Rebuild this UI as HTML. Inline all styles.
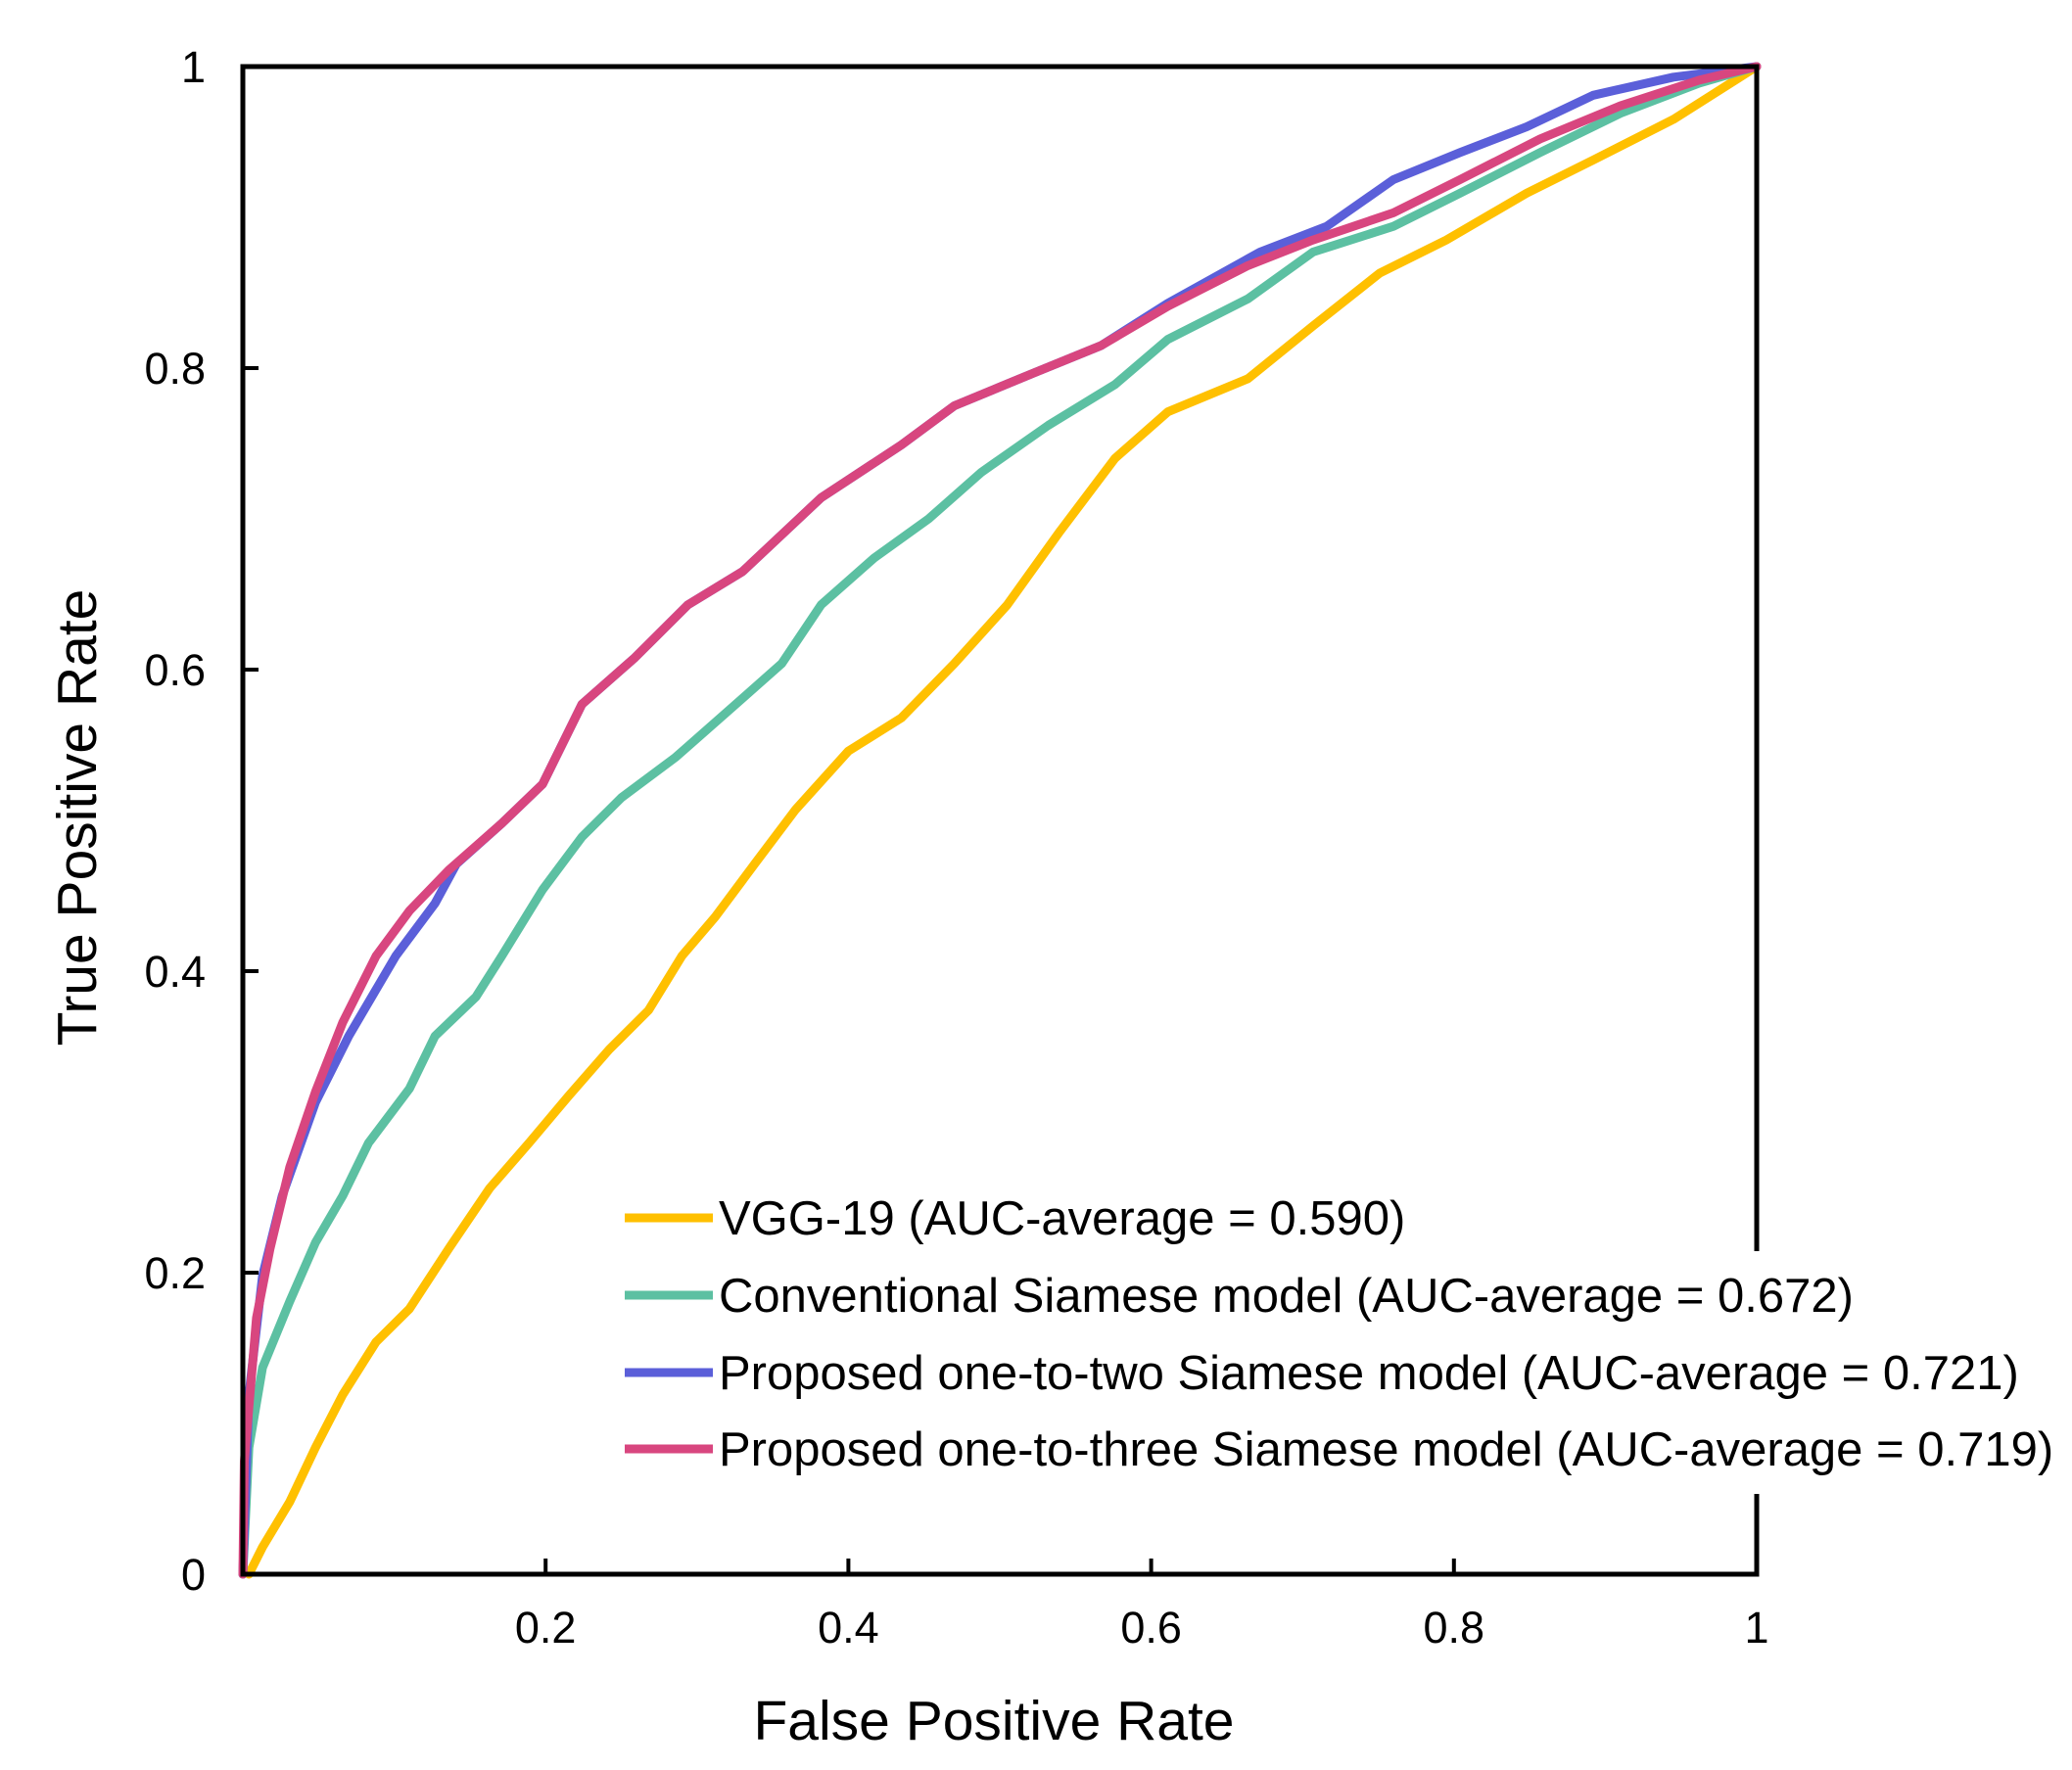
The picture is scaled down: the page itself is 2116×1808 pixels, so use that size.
<!DOCTYPE html>
<html><head><meta charset="utf-8"><style>
html,body{margin:0;padding:0;background:#fff;}
svg{display:block;font-family:"Liberation Sans",Arial,sans-serif;}
</style></head><body>
<svg id="chart" width="2116" height="1808" viewBox="0 0 2116 1808" xmlns="http://www.w3.org/2000/svg">
<g id="series"></g>
<g id="axes"></g>
<g id="legend"></g>
</svg>
<script>
const xTicks = [0.2, 0.4, 0.6, 0.8, 1];
const xTickLabels = ["0.2", "0.4", "0.6", "0.8", "1"];
const yTicks = [0, 0.2, 0.4, 0.6, 0.8, 1];
const yTickLabels = ["0", "0.2", "0.4", "0.6", "0.8", "1"];
const seriesNames = ["VGG-19 (AUC-average = 0.590)", "Conventional Siamese model (AUC-average = 0.672)", "Proposed one-to-two Siamese model (AUC-average = 0.721)", "Proposed one-to-three Siamese model (AUC-average = 0.719)"];
const seriesColors = ["#FFC000", "#5CC0A2", "#5B5FD9", "#D8467F"];

const vggX = [0.004,0.013,0.031,0.048,0.066,0.088,0.11,0.136,0.163,0.189,0.215,0.242,0.268,0.29,0.312,0.338,0.365,0.4,0.435,0.47,0.505,0.54,0.576,0.611,0.664,0.707,0.751,0.795,0.848,0.892,0.945,1];
const vggY = [0,0.018,0.048,0.084,0.119,0.154,0.176,0.216,0.256,0.286,0.317,0.348,0.374,0.41,0.436,0.471,0.507,0.546,0.568,0.604,0.643,0.692,0.74,0.771,0.793,0.828,0.863,0.885,0.916,0.938,0.965,1];
const convX = [0,0.004,0.013,0.031,0.048,0.066,0.083,0.11,0.127,0.154,0.171,0.198,0.224,0.25,0.286,0.321,0.356,0.382,0.417,0.453,0.488,0.532,0.576,0.611,0.664,0.707,0.76,0.804,0.857,0.91,0.962,1];
const convY = [0,0.084,0.137,0.181,0.22,0.251,0.286,0.322,0.357,0.383,0.41,0.454,0.489,0.515,0.542,0.573,0.604,0.643,0.674,0.7,0.731,0.762,0.789,0.819,0.846,0.877,0.894,0.916,0.943,0.969,0.989,1];
const twoX = [0,0.004,0.013,0.026,0.048,0.07,0.101,0.127,0.141,0.171,0.198,0.224,0.259,0.294,0.33,0.382,0.435,0.47,0.523,0.567,0.611,0.672,0.716,0.76,0.804,0.848,0.892,0.945,1];
const twoY = [0,0.119,0.198,0.251,0.313,0.357,0.41,0.445,0.471,0.498,0.524,0.577,0.608,0.643,0.665,0.714,0.749,0.775,0.797,0.815,0.843,0.877,0.894,0.925,0.943,0.96,0.981,0.993,1];
const threeX = [0,0.001,0.009,0.018,0.031,0.048,0.066,0.088,0.11,0.136,0.171,0.198,0.224,0.259,0.294,0.33,0.382,0.435,0.47,0.523,0.567,0.611,0.664,0.707,0.76,0.804,0.857,0.91,0.962,1];
const threeY = [0,0.075,0.17,0.216,0.27,0.32,0.366,0.41,0.44,0.467,0.498,0.524,0.577,0.608,0.643,0.665,0.714,0.749,0.775,0.797,0.815,0.841,0.868,0.885,0.903,0.925,0.952,0.974,0.991,1];

const X0 = 248, X1 = 1794, Y0 = 1608, Y1 = 68;
function sx(v){ return X0 + v*(X1-X0); }
function sy(v){ return Y0 - v*(Y0-Y1); }
const NS = "http://www.w3.org/2000/svg";
function mk(tag, attrs, parent){ const e=document.createElementNS(NS,tag); for(const k in attrs) e.setAttribute(k,attrs[k]); parent.appendChild(e); return e; }

const series = [[vggX,vggY],[convX,convY],[twoX,twoY],[threeX,threeY]];
const sg = document.getElementById('series');
const seriesKeys = ["vgg19","conventional-siamese","one-to-two-siamese","one-to-three-siamese"];
series.forEach((s,i)=>{
  let d = s[0].map((x,j)=>(j?'L':'M')+sx(x).toFixed(1)+','+sy(s[1][j]).toFixed(1)).join(' ');
  const p = mk('path',{d:d,fill:'none',stroke:seriesColors[i],'stroke-width':9,'stroke-linejoin':'round','stroke-linecap':'round'},sg);
  
  
});

const ag = document.getElementById('axes');
const frame = mk('rect',{x:X0,y:Y1,width:X1-X0,height:Y0-Y1,fill:'none',stroke:'#000','stroke-width':5},ag);


xTicks.forEach((v,i)=>{
  if(v<1){ const t=mk('line',{x1:sx(v),x2:sx(v),y1:Y0,y2:Y0-16,stroke:'#000','stroke-width':4},ag);
    
     }
  const l=mk('text',{x:sx(v),y:1678,'font-size':45,'text-anchor':'middle',fill:'#000'},ag);
  l.textContent=xTickLabels[i];
  
  
});
yTicks.forEach((v,i)=>{
  if(v>0 && v<1){ const t=mk('line',{x1:X0,x2:X0+16,y1:sy(v),y2:sy(v),stroke:'#000','stroke-width':4},ag);
    
     }
  const l=mk('text',{x:210,y:sy(v)+16,'font-size':45,'text-anchor':'end',fill:'#000'},ag);
  l.textContent=yTickLabels[i];
  
  
});
const xt=mk('text',{x:1015,y:1777,'font-size':57,'text-anchor':'middle',fill:'#000'},ag);
xt.textContent='False Positive Rate';


const yt=mk('text',{x:0,y:0,'font-size':57,'text-anchor':'middle',fill:'#000',transform:'translate(98,835) rotate(-90)'},ag);
yt.textContent='True Positive Rate';



const lg = document.getElementById('legend');
const bg = mk('rect',{x:730,y:1278,width:1380,height:248,fill:'#fff'},lg);


const rowsY = [1244, 1323, 1402, 1480];
seriesNames.forEach((n,i)=>{
  const g = mk('g',{},lg);
  
  
  const ln = mk('line',{x1:638,x2:728,y1:rowsY[i],y2:rowsY[i],stroke:seriesColors[i],'stroke-width':9},g);
  
  
  const t = mk('text',{x:734,y:rowsY[i]+17,'font-size':49,fill:'#000'},g);
  t.textContent = n;
  
  
});
</script>
</body></html>
